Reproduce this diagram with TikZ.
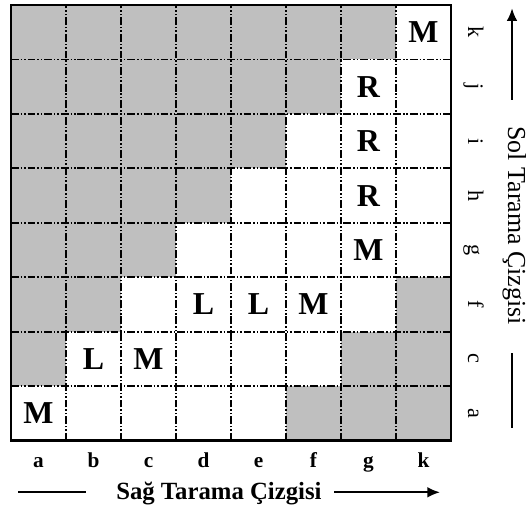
\documentclass[tikz,border=0pt]{standalone}
\usepackage{fontspec}
\setmainfont{Liberation Serif}
\usetikzlibrary{arrows.meta}

\begin{document}
\begin{tikzpicture}[x=1cm,y=0.99cm,
  gridline/.style={line width=0.9pt,dash pattern=on 4pt off 1pt on 0.8pt off 1pt on 0.8pt off 1pt},
  cellfill/.style={fill=black!25},
  celltxt/.style={font=\fontsize{16.5}{16.5}\selectfont\bfseries},
  axtxt/.style={font=\fontsize{11}{11}\selectfont\bfseries,inner sep=0pt,anchor=base},
  sidetxt/.style={font=\fontsize{11.5}{11.5}\selectfont,inner sep=0pt,anchor=base,rotate=-90},
  titletxt/.style={font=\fontsize{12.8}{12.8}\selectfont\bfseries,inner sep=0pt},
  scanline/.style={line width=1pt},
  scanarrow/.style={line width=1pt,-{Latex[length=6.5pt,width=5.5pt]}}]

\useasboundingbox (-0.2,-1.321) rectangle (9.364,8.092);

%-------------------------------------------------------------------
% Shaded cells: upper-left staircase and lower-right corner
\foreach \r in {1,...,7}{
    \foreach \c in {1,...,\r}{
        \fill[cellfill] (\c-1,\r) rectangle (\c,\r+1);}
}
\foreach \c/\r in {5/0,6/0,7/0,6/1,7/1,7/2}{
    \fill[cellfill] (\c,\r) rectangle (\c+1,\r+1);}

% Inner grid lines
\foreach \i in {1,...,7}{
    \draw[gridline] (\i,0)--(\i,8);
    \draw[gridline] (0,\i)--(8,\i);
}
\draw[line width=1.2pt] (0,0) rectangle (8,8);

%-------------------------------------------------------------------
% Cell marks
\foreach \c/\r/\t [count=\n] in {0/0/M,1/1/L,2/1/M,3/2/L,4/2/L,5/2/M,
                                 6/3/M,6/4/R,6/5/R,6/6/R,7/7/M}{
    \node[celltxt] (mark\n) at (\c+0.5,\r+0.5) {\t};
}

% Column labels (bottom) and row labels (right, rotated)
\foreach \t [count=\n] in {a,b,c,d,e,f,g,k}{
    \node[axtxt] (col\n) at (\n-0.5,-0.5) {\t};
}
\foreach \t [count=\n] in {a,c,f,g,h,i,j,k}{
    \node[sidetxt] (row\n) at (8.31,\n-0.5) {\t};
}

%-------------------------------------------------------------------
% Scan directions
\node[titletxt,anchor=base] (sag) at (3.78,-1.09) {Sağ Tarama Çizgisi};
\coordinate (sagL) at (0.13,-0.95);
\coordinate (sagR) at (7.8,-0.95);
\coordinate[xshift=-0.55cm] (sagA) at (sag.west |- sagL);
\coordinate[xshift=0.22cm] (sagB) at (sag.east |- sagR);
\draw[scanline] (sagL)--(sagA);
\draw[scanarrow] (sagB)--(sagR);

\node[font=\fontsize{13.4}{13.4}\selectfont,inner sep=0pt,rotate=-90] (sol) at (9.15,3.95) {Sol Tarama Çizgisi};
\coordinate (solB) at (9.11,0.24);
\coordinate (solC) at (9.11,1.61);
\coordinate (solA) at (9.11,6.26);
\coordinate (solT) at (9.11,7.94);
\draw[scanline] (solB)--(solC);
\draw[scanarrow] (solA)--(solT);

\end{tikzpicture}
\end{document}
